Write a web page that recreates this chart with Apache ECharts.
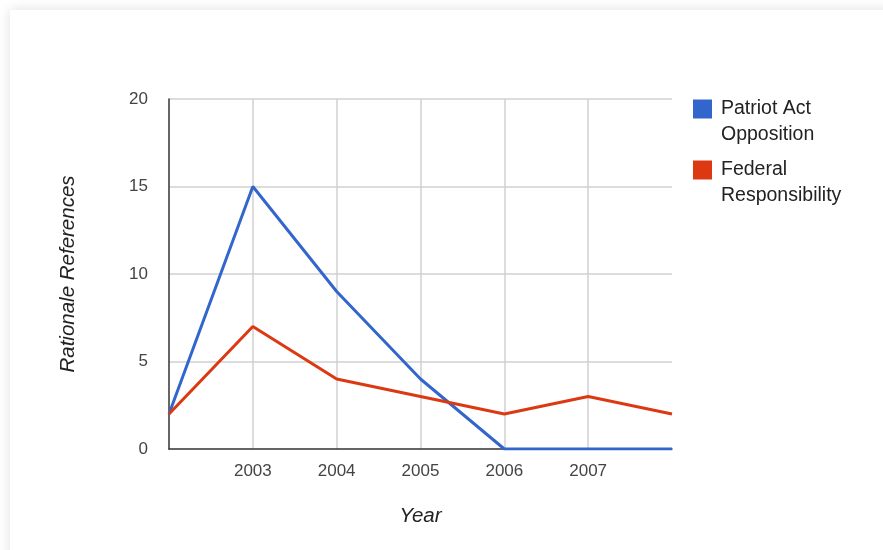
<!DOCTYPE html>
<html>
<head>
<meta charset="utf-8">
<script src="https://cdn.jsdelivr.net/npm/echarts@6/dist/echarts.min.js"></script>
<style>
  html, body { margin: 0; padding: 0; width: 883px; height: 550px; overflow: hidden; background: #ffffff; }
  #card { position: absolute; left: 10px; top: 10px; width: 900px; height: 580px; background: #fff; box-shadow: 0 0 12px rgba(0,0,0,0.13); }
  #chart { position: absolute; left: 0; top: 0; width: 883px; height: 550px; }
</style>
</head>
<body>
<div id="card"></div>
<div id="chart"></div>
<script>
var years = [2002, 2003, 2004, 2005, 2006, 2007, 2008];
var patriotActOpposition = [2, 15, 9, 4, 0, 0, 0];
var federalResponsibility = [2, 7, 4, 3, 2, 3, 2];
var seriesNames = ['Patriot Act Opposition', 'Federal Responsibility'];
var legendLabels = ['Patriot Act\nOpposition', 'Federal\nResponsibility'];
var yTicks = [0, 5, 10, 15, 20];

function pairs(xs, ys) { return xs.map(function (x, i) { return [x, ys[i]]; }); }

var chart = echarts.init(document.getElementById('chart'), null, { renderer: 'canvas' });
chart.setOption({
  backgroundColor: 'transparent',
  animation: false,
  color: ['#3366cc', '#dc3912'],
  textStyle: { fontFamily: 'Liberation Sans, Arial, sans-serif' },
  grid: { left: 169, right: 211, top: 99, bottom: 101, containLabel: false },
  legend: {
    orient: 'vertical',
    left: 693,
    top: 70,
    padding: 0,
    itemGap: -17,
    itemWidth: 19,
    itemHeight: 19,
    icon: 'rect',
    selectedMode: false,
    data: seriesNames,
    formatter: function (name) { return '\n' + legendLabels[seriesNames.indexOf(name)]; },
    textStyle: { fontSize: 19.5, color: '#222', lineHeight: 26, padding: [0, 0, 0, 4] }
  },
  xAxis: {
    type: 'value',
    min: years[0],
    max: years[years.length - 1],
    interval: 1,
    name: 'Year',
    nameLocation: 'middle',
    nameGap: 57,
    nameTextStyle: { fontSize: 20.5, fontStyle: 'italic', color: '#222' },
    axisLine: { show: true, onZero: false, lineStyle: { color: '#333', width: 1.5 } },
    axisTick: { show: false },
    axisLabel: { showMinLabel: false, showMaxLabel: false, fontSize: 17, color: '#444', margin: 14, formatter: function (v) { return String(v); } },
    splitLine: { show: true, showMinLine: false, showMaxLine: false, lineStyle: { color: '#d0d0d0', width: 1.5 } }
  },
  yAxis: {
    type: 'value',
    min: yTicks[0],
    max: yTicks[yTicks.length - 1],
    interval: 5,
    name: 'Rationale References',
    nameLocation: 'middle',
    nameRotate: 90,
    nameGap: 91,
    nameTextStyle: { fontSize: 20.5, fontStyle: 'italic', color: '#222' },
    axisLine: { show: true, lineStyle: { color: '#333', width: 1.5 } },
    axisTick: { show: false },
    axisLabel: { fontSize: 17, color: '#444', margin: 21 },
    splitLine: { show: true, showMinLine: false, lineStyle: { color: '#d0d0d0', width: 1.5 } }
  },
  series: [
    { name: seriesNames[0], type: 'line', data: pairs(years, patriotActOpposition), symbol: 'none', lineStyle: { width: 3 } },
    { name: seriesNames[1], type: 'line', data: pairs(years, federalResponsibility), symbol: 'none', lineStyle: { width: 3 } }
  ]
});
</script>
</body>
</html>
